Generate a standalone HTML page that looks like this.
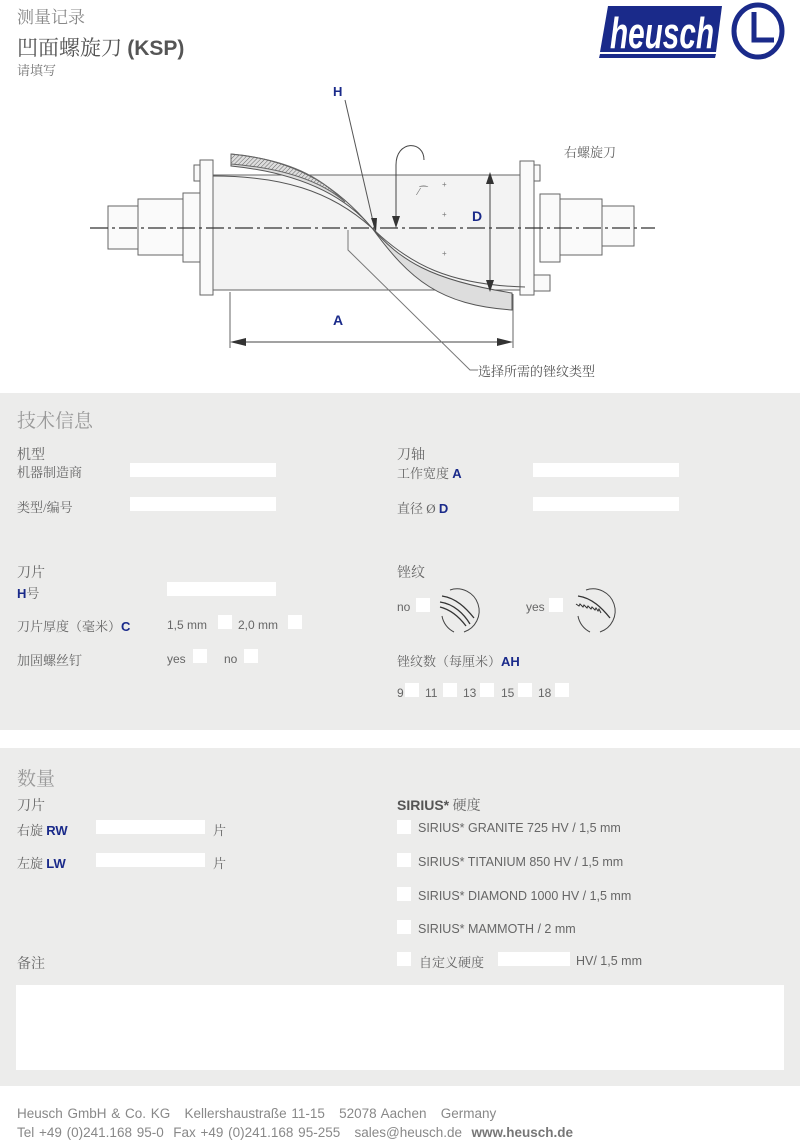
<!DOCTYPE html>
<html><head><meta charset="utf-8"><style>
body{margin:0;width:800px;height:1144px;background:#fff;position:relative;font-family:"Liberation Sans","Noto Sans CJK SC",sans-serif;color:#666;overflow:hidden}
.a{position:absolute;white-space:nowrap}
.s{font-family:"Liberation Serif","Noto Serif CJK SC",serif}
.b{color:#1a2a8a;font-weight:bold}
.f{position:absolute;background:#fff}
.p{position:absolute;left:0;width:800px;background:#ececeb}
</style></head><body>
<div class="a s" style="left:17px;top:3px;font-size:17px;color:#888">测量记录</div>
<div class="a s" style="left:17px;top:32px;font-size:21px;color:#555">凹面螺旋刀 <span style="font-family:'Liberation Sans';font-weight:bold">(KSP)</span></div>
<div class="a s" style="left:17px;top:60px;font-size:13px;color:#777">请填写</div>
<svg class="a" style="left:598px;top:2px" width="190" height="80" viewBox="0 0 190 80">
<polygon points="10,4 124,4 118,50 2,50" fill="#1a2a8a"/>
<polygon points="2,52 118,52 117,56 1,56" fill="#1a2a8a"/>
<text x="12" y="46" font-family="Liberation Sans" font-weight="bold" font-style="italic" font-size="44" fill="#fff" textLength="104" lengthAdjust="spacingAndGlyphs">heusch</text>
<ellipse cx="160" cy="29" rx="24" ry="26" fill="none" stroke="#1a2a8a" stroke-width="5"/>
<path d="M156,10 V38 H176" fill="none" stroke="#1a2a8a" stroke-width="5"/>
</svg>
<svg class="a" style="left:0;top:80px" width="800" height="310">
<defs><pattern id="h" width="3" height="3" patternUnits="userSpaceOnUse" patternTransform="rotate(45)"><line x1="0" y1="0" x2="0" y2="3" stroke="#666" stroke-width="1"/></pattern></defs>
<g fill="#fafafa" stroke="#666" stroke-width="1">
<rect x="108" y="126" width="30" height="43"/><rect x="138" y="119" width="45" height="56"/><rect x="183" y="113" width="17" height="69"/>
<rect x="200" y="80" width="13" height="135"/><rect x="194" y="85" width="6" height="16"/>
<rect x="213" y="95" width="307" height="115" fill="#f3f3f3"/>
<rect x="520" y="81" width="14" height="134"/><rect x="534" y="85" width="6" height="16"/><rect x="534" y="195" width="16" height="16"/>
<rect x="540" y="114" width="20" height="68"/><rect x="560" y="119" width="42" height="56"/><rect x="602" y="126" width="32" height="40"/>
</g>
<path d="M231,74 C300,80 340,110 372,148 C400,180 430,200 512,213 L512,230 C440,225 410,200 372,148 C340,110 290,92 231,86Z" fill="#ddd" stroke="#555"/>
<path d="M231,74 C290,80 320,97 345,122 C320,100 280,88 231,84Z" fill="url(#h)" stroke="#666"/>
<path d="M213,96 C280,96 330,110 372,148 C410,185 450,205 525,207" fill="none" stroke="#555"/>
<line x1="90" y1="148" x2="655" y2="148" stroke="#333" stroke-width="1.2" stroke-dasharray="18,4,3,4"/>
<line x1="490" y1="96" x2="490" y2="208" stroke="#444"/>
<polygon points="490,92 486,104 494,104" fill="#333"/><polygon points="490,212 486,200 494,200" fill="#333"/>
<line x1="230" y1="212" x2="230" y2="268" stroke="#666"/><line x1="513" y1="214" x2="513" y2="268" stroke="#666"/>
<line x1="232" y1="262" x2="511" y2="262" stroke="#444"/>
<polygon points="230,262 246,258 246,266" fill="#333"/><polygon points="513,262 497,258 497,266" fill="#333"/>
<line x1="345" y1="20" x2="375" y2="150" stroke="#555"/>
<polygon points="376,152 371,138 377,138" fill="#333"/>
<path d="M348,150 V170 L470,290 H478" fill="none" stroke="#777"/>
<path d="M396,145 V85 C396,60 424,60 424,80 V80" fill="none" stroke="#444"/>
<polygon points="396,148 392,136 400,136" fill="#333"/>
<text x="418" y="115" font-size="10" fill="#777">⁄⁀</text>
<text x="442" y="107" font-size="8" fill="#777">+</text><text x="442" y="137" font-size="8" fill="#777">+</text><text x="442" y="176" font-size="8" fill="#777">+</text>
</svg>
<div class="a b" style="left:333px;top:84px;font-size:13px">H</div>
<div class="a b" style="left:472px;top:208px;font-size:14px">D</div>
<div class="a b" style="left:333px;top:312px;font-size:14px">A</div>
<div class="a s" style="left:564px;top:142px;font-size:13px;color:#666">右螺旋刀</div>
<div class="a s" style="left:478px;top:361px;font-size:13px;color:#555">选择所需的锉纹类型</div>

<div class="p" style="top:393px;height:337px"></div>
<div class="a s" style="left:17px;top:406px;font-size:19px;color:#999">技术信息</div>
<div class="a s" style="left:17px;top:444px;font-size:14px">机型</div>
<div class="a s" style="left:17px;top:462px;font-size:13px">机器制造商</div><div class="f" style="left:130px;top:463px;width:146px;height:14px"></div>
<div class="a s" style="left:17px;top:497px;font-size:13px">类型/编号</div><div class="f" style="left:130px;top:497px;width:146px;height:14px"></div>
<div class="a s" style="left:17px;top:562px;font-size:14px">刀片</div>
<div class="a s" style="left:17px;top:583px;font-size:13px"><span class="b" style="font-family:'Liberation Sans'">H</span>号</div><div class="f" style="left:167px;top:582px;width:109px;height:14px"></div>
<div class="a s" style="left:17px;top:616px;font-size:13px">刀片厚度（毫米）<span class="b" style="font-family:'Liberation Sans'">C</span></div>
<div class="a" style="left:167px;top:618px;font-size:12px">1,5 mm</div><div class="f" style="left:218px;top:615px;width:14px;height:14px"></div>
<div class="a" style="left:238px;top:618px;font-size:12px">2,0 mm</div><div class="f" style="left:288px;top:615px;width:14px;height:14px"></div>
<div class="a s" style="left:17px;top:650px;font-size:13px">加固螺丝钉</div>
<div class="a" style="left:167px;top:652px;font-size:12px">yes</div><div class="f" style="left:193px;top:649px;width:14px;height:14px"></div>
<div class="a" style="left:224px;top:652px;font-size:12px">no</div><div class="f" style="left:244px;top:649px;width:14px;height:14px"></div>
<div class="a s" style="left:397px;top:444px;font-size:14px">刀轴</div>
<div class="a s" style="left:397px;top:463px;font-size:13px">工作宽度 <span class="b" style="font-family:'Liberation Sans'">A</span></div><div class="f" style="left:533px;top:463px;width:146px;height:14px"></div>
<div class="a s" style="left:397px;top:498px;font-size:13px">直径 Ø <span class="b" style="font-family:'Liberation Sans'">D</span></div><div class="f" style="left:533px;top:497px;width:146px;height:14px"></div>
<div class="a s" style="left:397px;top:562px;font-size:14px">锉纹</div>
<div class="a" style="left:397px;top:600px;font-size:12px">no</div><div class="f" style="left:416px;top:598px;width:14px;height:14px"></div>
<div class="a" style="left:526px;top:600px;font-size:12px">yes</div><div class="f" style="left:549px;top:598px;width:14px;height:14px"></div>
<svg class="a" style="left:436px;top:586px" width="50" height="50"><path d="M14,4 A22,22 0 0 1 28,46 M18,46 A22,22 0 0 1 6,30" fill="none" stroke="#444"/><path d="M6,10 C20,12 30,22 38,32 M4,16 C18,18 28,28 34,38 M4,21 C16,24 24,32 30,40" fill="none" stroke="#333" stroke-width="1.3"/></svg>
<svg class="a" style="left:572px;top:586px" width="50" height="50"><path d="M14,4 A22,22 0 0 1 28,46 M18,46 A22,22 0 0 1 6,30" fill="none" stroke="#444"/><path d="M6,10 C20,12 30,22 38,32" fill="none" stroke="#333" stroke-width="1.3"/><path d="M4,18 l3,2 l1,-2 l3,3 l1,-2 l3,3 l1,-2 l3,3 l1,-2 l3,3 l1,-2 l2,3 l1,-2 l2,4" fill="none" stroke="#333"/></svg>
<div class="a s" style="left:397px;top:651px;font-size:13px">锉纹数（每厘米）<span class="b" style="font-family:'Liberation Sans'">AH</span></div>
<div class="a" style="left:397px;top:686px;font-size:12px">9</div><div class="f" style="left:405px;top:683px;width:14px;height:14px"></div>
<div class="a" style="left:425px;top:686px;font-size:12px">11</div><div class="f" style="left:443px;top:683px;width:14px;height:14px"></div>
<div class="a" style="left:463px;top:686px;font-size:12px">13</div><div class="f" style="left:480px;top:683px;width:14px;height:14px"></div>
<div class="a" style="left:501px;top:686px;font-size:12px">15</div><div class="f" style="left:518px;top:683px;width:14px;height:14px"></div>
<div class="a" style="left:538px;top:686px;font-size:12px">18</div><div class="f" style="left:555px;top:683px;width:14px;height:14px"></div>

<div class="p" style="top:748px;height:338px"></div>
<div class="a s" style="left:17px;top:764px;font-size:19px;color:#999">数量</div>
<div class="a s" style="left:17px;top:795px;font-size:14px">刀片</div>
<div class="a s" style="left:397px;top:795px;font-size:14px"><b style="font-family:'Liberation Sans';color:#555">SIRIUS*</b> 硬度</div>
<div class="a s" style="left:17px;top:820px;font-size:13px">右旋 <span class="b" style="font-family:'Liberation Sans'">RW</span></div><div class="f" style="left:96px;top:820px;width:109px;height:14px"></div><div class="a s" style="left:213px;top:820px;font-size:13px">片</div>
<div class="a s" style="left:17px;top:853px;font-size:13px">左旋 <span class="b" style="font-family:'Liberation Sans'">LW</span></div><div class="f" style="left:96px;top:853px;width:109px;height:14px"></div><div class="a s" style="left:213px;top:853px;font-size:13px">片</div>
<div class="f" style="left:397px;top:820px;width:14px;height:14px"></div><div class="a" style="left:418px;top:821px;font-size:12.5px">SIRIUS* GRANITE 725 HV / 1,5 mm</div>
<div class="f" style="left:397px;top:853px;width:14px;height:14px"></div><div class="a" style="left:418px;top:855px;font-size:12.5px">SIRIUS* TITANIUM 850 HV / 1,5 mm</div>
<div class="f" style="left:397px;top:887px;width:14px;height:14px"></div><div class="a" style="left:418px;top:889px;font-size:12.5px">SIRIUS* DIAMOND 1000 HV / 1,5 mm</div>
<div class="f" style="left:397px;top:920px;width:14px;height:14px"></div><div class="a" style="left:418px;top:922px;font-size:12.5px">SIRIUS* MAMMOTH / 2 mm</div>
<div class="a s" style="left:17px;top:953px;font-size:14px">备注</div>
<div class="f" style="left:397px;top:952px;width:14px;height:14px"></div><div class="a s" style="left:419px;top:952px;font-size:13px">自定义硬度</div>
<div class="f" style="left:498px;top:952px;width:72px;height:14px"></div><div class="a" style="left:576px;top:954px;font-size:12.5px">HV/ 1,5 mm</div>
<div class="f" style="left:16px;top:985px;width:768px;height:85px"></div>
<div class="a" style="left:17px;top:1106px;font-size:13.5px;color:#888;word-spacing:1px">Heusch GmbH &amp; Co. KG &nbsp;&nbsp;Kellershaustraße 11-15 &nbsp;&nbsp;52078 Aachen &nbsp;&nbsp;Germany</div>
<div class="a" style="left:17px;top:1125px;font-size:13.5px;color:#888;word-spacing:1px">Tel +49 (0)241.168 95-0 &nbsp;Fax +49 (0)241.168 95-255 &nbsp;&nbsp;sales@heusch.de &nbsp;<b style="color:#777">www.heusch.de</b></div>
</body></html>
